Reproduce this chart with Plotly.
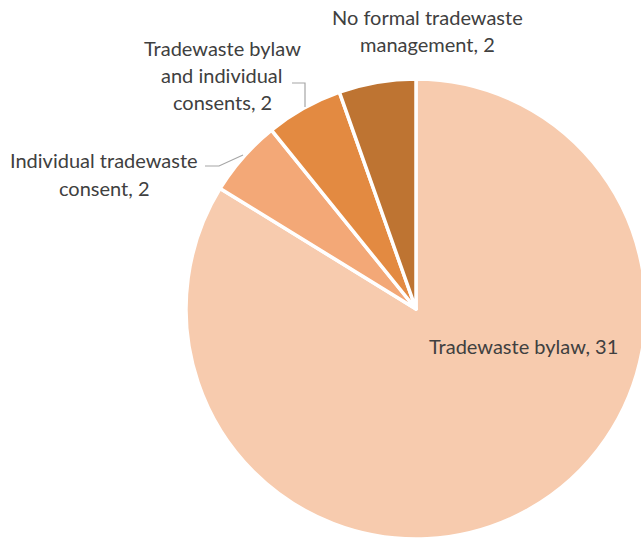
import plotly.graph_objects as go

categories = [
    "Tradewaste bylaw",
    "Individual tradewaste consent",
    "Tradewaste bylaw and individual consents",
    "No formal tradewaste management",
]
values = [31, 2, 2, 2]
colors = ["#F7CBAE", "#F3A877", "#E38A41", "#BE7432"]

# figure is slightly wider than the 641px window so the pie is clipped on the right, as in the reference
W, H = 646, 542

fig = go.Figure()
fig.add_trace(go.Pie(
    labels=categories,
    values=values,
    sort=False,
    direction="clockwise",
    rotation=0,
    marker=dict(colors=colors, line=dict(color="white", width=3.5)),
    textinfo="none",
    hoverinfo="label+value",
    showlegend=False,
    domain=dict(x=[186 / W, 1], y=[(542 - 309 - 230) / H, (542 - 309 + 230) / H]),
))

# label layouts: (wrapped text lines, centre x px, centre y px)
wrap = {
    0: (["Tradewaste bylaw, " + str(values[0])], 523, 346),
    1: (["Individual tradewaste", "consent, " + str(values[1])], 104, 174),
    2: (["Tradewaste bylaw", "and individual", "consents, " + str(values[2])], 222, 75),
    3: (["No formal tradewaste", "management, " + str(values[3])], 427, 31),
}
line_gap = 27
for i, (lines, cx, cy) in wrap.items():
    n = len(lines)
    for k, t in enumerate(lines):
        y = cy + (k - (n - 1) / 2) * line_gap
        fig.add_annotation(
            x=cx / W, y=1 - y / H, xref="paper", yref="paper",
            text=t, showarrow=False, xanchor="center", yanchor="middle",
            font=dict(family="Lato", size=20, color="#404040"),
        )

# leader lines
leaders = [
    [(205, 166), (219, 166), (243, 155)],
    [(292, 83), (305, 83), (305, 107)],
]
for pts in leaders:
    path = "M " + " L ".join(f"{x / W},{1 - y / H}" for x, y in pts)
    fig.add_shape(type="path", path=path, xref="paper", yref="paper",
                  line=dict(color="#A6A6A6", width=1.2))

fig.update_layout(
    width=W, height=H,
    margin=dict(l=0, r=0, t=0, b=0),
    paper_bgcolor="white", plot_bgcolor="white",
)

fig.write_html(
    "out.html",
    config={"displayModeBar": False},
    post_script="document.body.style.margin='0';document.body.style.overflow='hidden';",
)
